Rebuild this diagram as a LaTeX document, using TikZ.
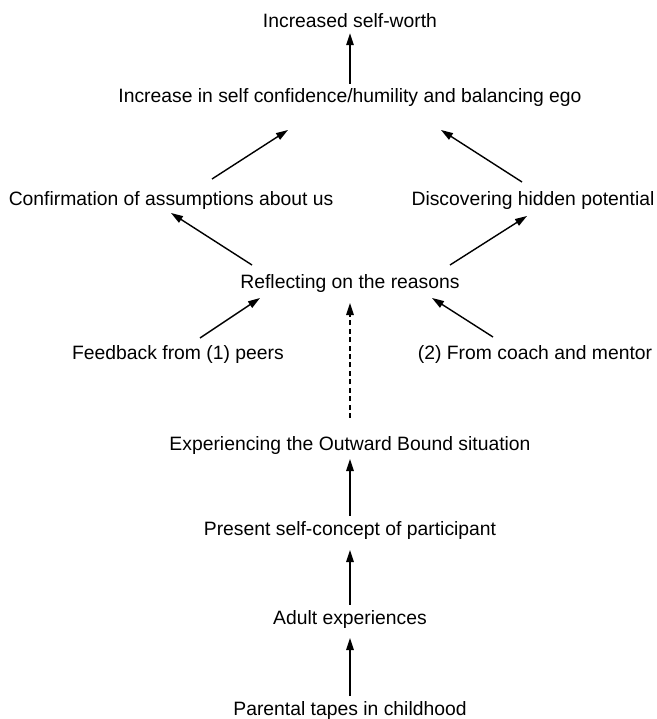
\documentclass[tikz,border=0pt]{standalone}
\usepackage{fontspec}
\setmainfont{Liberation Sans}
\usetikzlibrary{arrows.meta}

\begin{document}
\begin{tikzpicture}[
  >={Triangle[length=0.24cm,width=0.15cm]},
  stage/.style={anchor=base,inner sep=0pt,outer sep=0.1cm,
    font=\fontsize{11}{13}\selectfont},
  lead/.style={->,line width=0.8pt},
  hint/.style={lead,dash pattern=on 2.8pt off 2pt}
]
\useasboundingbox (0,0) rectangle (13.14,-14.38);

%--------------------
% upper part
%--------------------
\node[stage] (worth) at (7.00,-0.56) {Increased self-worth};
\node[stage] (ego) at (7.00,-2.06)
  {Increase in self confidence/humility and balancing ego};
\node[stage] (confirm) at (3.42,-4.10) {Confirmation of assumptions about us};
\node[stage] (potential) at (10.66,-4.10) {Discovering hidden potential};
\node[stage] (reflect) at (7.00,-5.76) {Reflecting on the reasons};
\node[stage] (peers) at (3.56,-7.18) {Feedback from (1) peers};
\node[stage] (coach) at (10.70,-7.18) {(2) From coach and mentor};

%--------------------
% lower part
%--------------------
\node[stage] (outward) at (7.00,-9.00) {Experiencing the Outward Bound situation};
\node[stage] (present) at (7.00,-10.70) {Present self-concept of participant};
\node[stage] (adult) at (7.00,-12.48) {Adult experiences};
\node[stage] (tapes) at (7.00,-14.30) {Parental tapes in childhood};

% straight up the middle
\draw[lead,shorten >=0.1cm] (tapes) -- (adult);
\draw[lead,shorten >=0.12cm] (adult) -- (present);
\draw[lead] (present) -- (outward);
\draw[hint,shorten <=0.26cm,shorten >=0.12cm] (outward) -- (reflect);
\draw[lead] (ego) -- (worth);

% feedback into reflection
\draw[lead] ([shift={(0.44,0.42)}]peers.base)
  -- ([shift={(-1.80,-0.20)}]reflect.base);
\draw[lead] ([shift={(-0.84,0.44)}]coach.base)
  -- ([shift={(1.64,-0.20)}]reflect.base);

% reflection splits in two
\draw[lead] ([shift={(-1.96,0.46)}]reflect.base)
  -- ([shift={(0,-0.16)}]confirm.base);
\draw[lead] ([shift={(2.00,0.46)}]reflect.base)
  -- ([shift={(-0.12,-0.22)}]potential.base);

% and both lead up
\draw[lead] ([shift={(0.82,0.52)}]confirm.base)
  -- ([shift={(-1.24,-0.54)}]ego.base);
\draw[lead] ([shift={(-0.22,0.46)}]potential.base)
  -- ([shift={(1.82,-0.54)}]ego.base);

\end{tikzpicture}
\end{document}
